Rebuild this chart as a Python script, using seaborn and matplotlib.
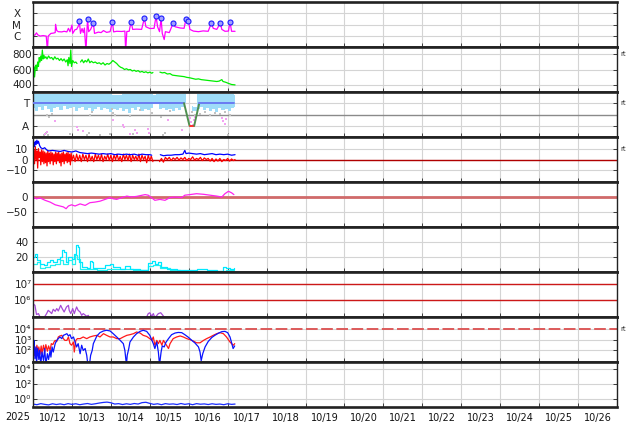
import numpy as np
import pandas as pd
import matplotlib
matplotlib.use("Agg")
import matplotlib.pyplot as plt
import matplotlib.transforms as mtransforms
from matplotlib.ticker import FixedLocator, FixedFormatter, NullLocator
import seaborn as sns

# time axis = days since 2025-10-11 00:00 UT
day_labels = ["10/12", "10/13", "10/14", "10/15", "10/16", "10/17", "10/18", "10/19",
              "10/20", "10/21", "10/22", "10/23", "10/24", "10/25", "10/26"]

# --- panel 1: X-ray flux, in units of 1e-6 W/m2 (C1 = 1) ---
xray_day = [0.00, 0.05, 0.09, 0.12, 0.18, 0.26, 0.34, 0.37, 0.39, 0.46,
            0.52, 0.57, 0.58, 0.61, 0.65, 0.74, 0.80, 0.87, 0.91, 0.95,
            1.00, 1.02, 1.08, 1.12, 1.17, 1.19, 1.22, 1.26, 1.29, 1.32,
            1.36, 1.40, 1.43, 1.48, 1.55, 1.58, 1.68, 1.75, 1.81, 1.89,
            1.98, 2.04, 2.07, 2.15, 2.28, 2.36, 2.38, 2.41, 2.47, 2.52,
            2.56, 2.66, 2.79, 2.86, 2.90, 3.00, 3.11, 3.16, 3.20, 3.25,
            3.29, 3.32, 3.37, 3.40, 3.50, 3.60, 3.65, 3.78, 3.88, 3.93,
            3.96, 3.99, 4.03, 4.12, 4.25, 4.37, 4.50, 4.58, 4.63, 4.72,
            4.81, 4.85, 4.93, 5.02, 5.06, 5.10, 5.19]
xray_c = [1.2, 1.2, 1.9, 1.3, 1.0, 1.1, 1.0, 0.05, 1.0, 1.7,
          1.8, 2.0, 10.5, 3.0, 2.4, 2.3, 2.6, 2.3, 4.7, 2.4,
          9.0, 1.7, 3.6, 3.8, 8.0, 20, 1.7, 4.5, 2.0, 5.0,
          0.05, 28, 2.4, 3.8, 13, 1.7, 2.2, 2.0, 3.0, 2.1,
          2.4, 18, 2.3, 2.6, 2.5, 2.7, 0.05, 2.5, 2.6, 18,
          3.8, 4.0, 3.8, 35, 6.4, 4.5, 4.7, 55, 6.4, 2.4,
          35, 1.7, 0.5, 2.4, 2.0, 13, 6.4, 5.0, 4.7, 30,
          22, 25, 3.8, 2.7, 2.4, 2.8, 2.6, 13, 4.7, 3.8,
          13, 3.8, 2.6, 2.7, 17, 2.6, 2.6]
flare_day = [1.19, 1.40, 1.55, 2.04, 2.52, 2.86, 3.16, 3.29, 3.60, 3.93, 3.99, 4.58, 4.81, 5.06]
flare_c = [20, 28, 13, 18, 18, 35, 55, 35, 13, 30, 22, 13, 13, 17]

# --- panel 2: solar wind speed (km/s), nan = data gap ---
speed_day = [0.00, 0.02, 0.04, 0.06, 0.08, 0.10, 0.12, 0.14, 0.16, 0.18,
             0.20, 0.22, 0.24, 0.26, 0.28, 0.30, 0.33, 0.36, 0.40, 0.44,
             0.48, 0.52, 0.56, 0.60, 0.64, 0.68, 0.72, 0.76, 0.80, 0.84,
             0.88, 0.90, 0.92, 0.95, 0.97, 0.99, 1.02, 1.06, 1.10, 1.13,
             1.17,
             1.22, 1.26, 1.30, 1.34, 1.38, 1.42, 1.46, 1.50, 1.55, 1.60,
             1.65, 1.70, 1.75, 1.80, 1.85, 1.90, 1.95, 2.00, 2.05, 2.10,
             2.15, 2.20, 2.25, 2.30, 2.35, 2.40, 2.45, 2.50, 2.55, 2.60,
             2.65, 2.70, 2.75, 2.80, 2.85, 2.90, 2.95, 3.00, 3.05, 3.08,
             3.17,
             3.26, 3.32, 3.38, 3.45, 3.52, 3.58, 3.65, 3.72, 3.80, 3.88,
             3.95, 4.02, 4.10, 4.18, 4.25, 4.32, 4.40, 4.48, 4.56, 4.64,
             4.72, 4.78, 4.85, 4.88, 4.95, 5.02, 5.10, 5.19]
speed = [560, 640, 500, 620, 660, 590, 700, 640, 760, 700,
         780, 720, 860, 740, 790, 750, 770, 740, 780, 750,
         760, 730, 770, 740, 750, 720, 745, 715, 740, 700,
         730, 650, 760, 680, 860, 640, 720, 690, 700, 680,
         np.nan,
         700, 730, 690, 720, 700, 740, 690, 710, 690, 700,
         680, 690, 670, 690, 660, 680, 670, 690, 720, 700,
         680, 650, 630, 620, 600, 610, 595, 600, 580, 590,
         575, 585, 565, 575, 560, 570, 555, 565, 550, 560,
         np.nan,
         565, 555, 560, 540, 545, 525, 520, 515, 510, 505,
         495, 490, 480, 470, 475, 465, 460, 455, 450, 445,
         440, 445, 465, 440, 430, 415, 400, 395]

# --- panel 3: sector polarity (A = 1, T = 3) ---
pol_day = [0.00, 0.08, 0.16, 0.24, 0.32, 0.40, 0.48, 0.56, 0.64, 0.72,
           0.80, 0.88, 0.96, 1.04, 1.12, 1.20, 1.28, 1.36, 1.44, 1.52,
           1.60, 1.68, 1.76, 1.84, 1.92, 2.00, 2.08, 2.16, 2.24, 2.32,
           2.40, 2.48, 2.56, 2.64, 2.72, 2.80, 2.88, 2.96, 3.04, 3.12,
           3.20, 3.28, 3.36, 3.44, 3.52, 3.60, 3.68, 3.76, 3.84, 3.92,
           4.00, 4.08, 4.16, 4.24, 4.32, 4.40, 4.48, 4.56, 4.64, 4.72,
           4.80, 4.88, 4.96, 5.04, 5.12, 5.19]
pol_hi = [3.85, 3.85, 3.85, 3.85, 3.85, 3.85, 3.85, 3.85, 3.85, 3.85,
          3.85, 3.85, 3.85, 3.85, 3.85, 3.85, 3.85, 3.85, 3.85, 3.85,
          3.85, 3.85, 3.85, 3.85, 3.85, 3.85, 3.75, 3.75, 3.70, 3.85,
          3.85, 3.85, 3.85, 3.85, 3.85, 3.85, 3.85, 3.85, 3.85, 3.70,
          3.85, 3.85, 3.85, 3.85, 3.85, 3.85, 3.85, 3.85, 3.85, 3.80,
          np.nan, 2.80, 2.70, 3.85, 3.85, 3.85, 3.85, 3.85, 3.85, 3.85,
          3.85, 3.85, 3.85, 3.85, 3.85, 3.75]
pol_lo = [2.6, 2.3, 2.7, 2.4, 2.8, 2.5, 2.2, 2.6, 2.7, 2.4,
          2.8, 2.5, 2.6, 2.7, 2.3, 2.6, 2.7, 2.4, 2.6, 2.3,
          2.5, 2.7, 2.4, 2.6, 2.5, 2.2, 2.5, 2.4, 2.6, 2.3,
          2.5, 2.1, 2.6, 2.4, 2.7, 2.3, 2.5, 2.4, 2.6, 2.9,
          3.0, 2.5, 2.6, 2.4, 2.5, 2.3, 2.6, 2.4, 2.7, 3.0,
          np.nan, 2.2, 2.3, 2.5, 2.7, 2.4, 2.6, 2.3, 2.5, 2.2,
          2.6, 2.4, 2.5, 2.3, 2.6, 2.7]
gray_day = [0.35, 0.42, 0.48, 1.46, 1.51, 2.02, 2.06, 2.11, 2.49, 2.75,
            3.05, 3.30, 3.52, 4.08, 4.16, 4.29, 4.42, 4.55, 4.67, 4.80,
            4.93, 5.06, 0.27, 0.33, 0.39, 0.95, 1.38, 1.45, 1.72, 1.98,
            2.58, 3.33, 3.39, 5.02]
gray_val = [1.93, 1.78, 2.07, 1.99, 2.22, 2.52, 2.16, 1.93, 1.87, 2.37,
            2.16, 1.78, 2.28, 2.22, 1.93, 2.07, 2.22, 1.93, 2.16, 2.07,
            2.22, 1.99, 0.20, 0.38, 0.20, 0.30, 0.20, 0.38, 0.20, 0.27,
            0.30, 0.20, 0.38, 0.20]
pink_day = [0.57, 0.31, 0.35, 1.12, 1.15, 1.29, 2.06, 2.30, 2.34, 2.49,
            2.62, 2.68, 2.96, 2.99, 3.48, 3.82, 4.02, 4.05, 4.10, 4.13,
            4.17, 4.85, 4.89, 4.93, 4.97]
pink_val = [1.39, 0.30, 0.44, 0.89, 0.59, 0.50, 1.48, 1.10, 0.86, 0.30,
            0.59, 0.38, 0.74, 0.38, 1.48, 0.59, 1.69, 1.33, 1.04, 1.48,
            1.78, 1.69, 1.39, 1.19, 1.57]
status_day = [0.00, 3.88, 4.02, 4.14, 4.27, 5.15]
status_val = [3, 3, 1, 1, 3, 3]

# --- panel 4: IMF Bt (blue) and Bz (red), nT ---
bt_day = [0.00, 0.02, 0.04, 0.06, 0.08, 0.10, 0.12, 0.14, 0.17, 0.20,
          0.25, 0.30, 0.35, 0.40, 0.50, 0.60, 0.70, 0.80, 0.90, 1.00,
          1.10, 1.20, 1.30, 1.40, 1.50, 1.60, 1.70, 1.80, 1.90, 2.00,
          2.10, 2.20, 2.30, 2.40, 2.50, 2.60, 2.70, 2.80, 2.90, 3.00,
          3.05, 3.15, 3.27, 3.35, 3.45, 3.55, 3.65, 3.75, 3.85, 3.90,
          3.93, 4.00, 4.10, 4.20, 4.30, 4.40, 4.50, 4.60, 4.70, 4.80,
          4.90, 5.00, 5.10, 5.19]
bt = [14, 16, 12, 17, 14, 18, 15, 17, 13, 11,
      10, 11, 9, 8, 8.5, 8, 7.5, 8.5, 7.5, 7,
      8, 6.5, 6, 5.5, 6, 5.5, 5, 5.5, 5, 5.5,
      4.5, 5, 4.5, 5, 4.5, 5, 4, 5, 4.5, 4.5,
      4, np.nan, 4.5, 3.5, 4, 4, 4.5, 4.5, 5, 8.5,
      5.5, 6, 5.5, 5, 5.5, 4.5, 5, 5.5, 4.5, 5,
      4.5, 5, 4, 4.5]
bz_early = [-10, 9, -4, 12, 0, 8, -8, 10, 2, 7,
            -5, 9, -2, 8, -4, 7, -3, 6, -6, 8,
            -2, 6, -4, 7, -1, 6, -5, 5, -2, 7,
            -4, 6, -1, 7, -3, 5, -6, 6, -2, 7,
            -4, 5, -1, 6, -3, 7, -2, 5, -5, 6,
            -1]
bz_mid = [4, -2, 5, -1, 4, -2, 5, 0, 4, -2,
          5, -1, 3, -2, 5, 0, 4, -1, 5, -2,
          3, 0, 5, -1, 4, -2, 4, 0, 5, -1,
          3, -2, 5, 0, 4, -1, 5, -2, 4, 0,
          3, -1, 5, -2, 4, 0, 3, -3, 4, -1,
          3, -2]
bz_late = [-2, 1, -2.5, 2, 0, 2, -1, 1.5, 0, 2,
           -0.5, 1.5, 0, 2, -1, 1, 0, 2.5, -0.5, 1,
           0, 2, -1, 1.5, 0, 1, -1.5, 1, -2, 0.5,
           -1.5, 1, -2, 0, -1, 1, -1.5, 0.5, -1, 0]
bz_day = list(np.round(np.linspace(0.0, 1.0, 51), 3)) + \
         list(np.round(np.linspace(1.04, 3.08, 52), 3)) + [3.17] + \
         list(np.round(np.linspace(3.25, 5.15, 39), 3)) + [5.19]
bz = bz_early + bz_mid + [np.nan] + bz_late

# --- panel 5: Dst index (nT) ---
dst_day = [0.00, 0.09, 0.18, 0.31, 0.44, 0.57, 0.69, 0.78, 0.85, 0.91,
           0.99, 1.08, 1.21, 1.34, 1.46, 1.59, 1.72, 1.85, 1.98, 2.06,
           2.15, 2.28, 2.41, 2.53, 2.66, 2.88, 2.96, 3.05, 3.13, 3.26,
           3.39, 3.52, 3.65, 3.82, 3.90, 4.03, 4.20, 4.38, 4.55, 4.72,
           4.85, 4.93, 5.02, 5.10, 5.16]
dst = [0, -6, -3, -11, -17, -26, -30, -33, -39, -30,
       -26, -30, -23, -28, -19, -17, -14, -8, -2, -6,
       -8, -2, 3, 0, 2, 8, 6, -3, -11, -8,
       -11, -2, 0, -2, 6, 8, 11, 9, 6, 3,
       0, 11, 19, 14, 8]

# --- panel 6: two cyan traces ---
cyan_a_day = [0.00, 0.05, 0.11, 0.18, 0.27, 0.35, 0.44, 0.52, 0.61, 0.69,
              0.75, 0.80, 0.85, 0.91, 0.99, 1.05, 1.10, 1.15, 1.19, 1.25,
              1.38, 1.46, 1.51, 1.55, 1.72, 1.85, 1.98, 2.06, 2.23, 2.36,
              2.49, 2.75, 2.96, 3.05, 3.13, 3.22, 3.30, 3.43, 3.69, 3.95,
              4.20, 4.46, 4.72, 4.89, 4.97, 5.06, 5.16]
cyan_a = [20, 24.5, 15.6, 11, 9, 13.4, 15.6, 13.4, 17, 20,
          29, 26.8, 13.4, 20, 17.9, 24.5, 35.6, 33.4, 13.4, 6.7,
          5.4, 14.3, 13.4, 5.4, 5.4, 9, 11.2, 6.7, 3.6, 8,
          4.5, 2.3, 12, 14.3, 11.2, 13.4, 6.7, 3.6, 2.3, 2.3,
          3.6, 2.3, 1.9, 6.7, 5.4, 3.6, 5.4]
cyan_b_day = [0.00, 0.09, 0.18, 0.31, 0.44, 0.57, 0.69, 0.78, 0.91, 0.99,
              1.08, 1.12, 1.21, 1.42, 1.64, 1.89, 2.06, 2.32, 2.58, 2.83,
              2.96, 3.09, 3.26, 3.52, 3.78, 4.03, 4.29, 4.55, 4.80, 4.97, 5.16]
cyan_b = [11.2, 13.4, 5.4, 6.7, 9.9, 11.2, 15.6, 11.2, 15.6, 11.2,
          22.3, 17.9, 3.6, 3.6, 2.3, 4.5, 3.6, 3.6, 2.3, 2.3,
          8, 9.9, 5.4, 2.3, 1, 1.4, 1, 1, 1.9, 2.3, 2.3]

# --- panel 7: purple trace, units of 1e5 ---
purple_day = [0.00, 0.05, 0.09, 0.14, 0.18, 0.27, 0.35, 0.39, 0.44, 0.48,
              0.52, 0.57, 0.61, 0.65, 0.71, 0.75, 0.80, 0.86, 0.91, 0.93,
              0.97, 1.02, 1.06, 1.12, 1.16, 1.21, 1.25, 1.29, 1.38, 1.42,
              1.46, 2.90, 2.96, 3.00, 3.05, 3.09, 3.13, 3.22, 3.28, 3.33, 3.40]
purple = [6.3, 5.0, 1.4, 1.6, 1.0, 0.8, 1.6, 2.5, 2.0, 1.6,
          2.9, 2.2, 3.2, 2.3, 5.0, 3.2, 2.0, 4.0, 5.0, 2.5,
          1.6, 3.2, 1.6, 4.0, 2.5, 2.0, 1.26, 1.6, 1.1, 1.26,
          0.8, 0.8, 1.6, 1.8, 1.1, 1.6, 0.9, 1.6, 1.8, 1.3, 0.8]

# --- panel 8: blue and red fluxes ---
p8_blue_day = [0.00, 0.02, 0.03, 0.05, 0.08, 0.09, 0.12, 0.15, 0.17, 0.20,
               0.23, 0.27, 0.30, 0.33, 0.37, 0.40, 0.44, 0.46, 0.49, 0.52,
               0.57, 0.61, 0.65, 0.69, 0.74, 0.78, 0.82, 0.87, 0.91, 0.95,
               0.99, 1.04, 1.08, 1.12, 1.16, 1.21, 1.25, 1.29, 1.34, 1.38,
               1.41, 1.45, 1.48, 1.52, 1.55, 1.64, 1.72, 1.81, 1.89, 1.98,
               2.06, 2.15, 2.24, 2.32, 2.36, 2.40, 2.42, 2.46, 2.49, 2.58,
               2.66, 2.75, 2.83, 2.92, 3.00, 3.09, 3.13, 3.18, 3.22, 3.25,
               3.29, 3.32, 3.37, 3.41, 3.48, 3.56, 3.65, 3.73, 3.82, 3.90,
               3.99, 4.08, 4.16, 4.25, 4.29, 4.32, 4.36, 4.42, 4.50, 4.59,
               4.67, 4.76, 4.85, 4.93, 5.00, 5.06, 5.10, 5.14, 5.18]
p8_blue = [1700, 72, 830, 18, 210, 5, 150, 15, 100, 5,
           72, 12, 150, 5, 51, 15, 100, 25, 210, 72,
           420, 830, 1200, 1700, 1200, 2400, 2750, 3400, 2100, 2750,
           1200, 1700, 590, 210, 420, 51, 300, 100, 150, 36,
           5, 5, 36, 100, 420, 2100, 4200, 6000, 6900, 6000,
           3400, 1700, 830, 420, 100, 5, 36, 150, 590, 1700,
           3400, 5500, 6900, 5500, 2400, 420, 150, 590, 72, 5,
           72, 260, 210, 520, 1200, 2750, 3900, 4400, 4200, 2750,
           1600, 830, 480, 210, 72, 12, 51, 210, 660, 1500,
           2400, 3700, 5200, 5500, 4200, 1700, 520, 150, 260]
p8_red_day = [0.00, 0.02, 0.03, 0.05, 0.08, 0.10, 0.13, 0.15, 0.18, 0.21,
              0.23, 0.27, 0.30, 0.33, 0.37, 0.40, 0.44, 0.47, 0.51, 0.54,
              0.57, 0.61, 0.65, 0.69, 0.74, 0.78, 0.82, 0.87, 0.91, 0.95,
              0.99, 1.04, 1.06, 1.10, 1.14, 1.21, 1.29, 1.38, 1.46, 1.55,
              1.64, 1.72, 1.81, 1.89, 1.98, 2.06, 2.15, 2.24, 2.32, 2.41,
              2.49, 2.58, 2.66, 2.75, 2.83, 2.92, 3.00, 3.05, 3.09, 3.13,
              3.18, 3.22, 3.26, 3.31, 3.35, 3.43, 3.48, 3.52, 3.60, 3.69,
              3.78, 3.86, 3.95, 4.03, 4.12, 4.20, 4.29, 4.38, 4.46, 4.55,
              4.63, 4.72, 4.80, 4.89, 4.97, 5.06, 5.10, 5.15, 5.18]
p8_red = [18, 150, 36, 210, 51, 300, 72, 210, 45, 260,
          51, 300, 72, 340, 85, 260, 100, 420, 340, 590,
          830, 660, 1700, 2100, 2400, 1200, 830, 830, 1700, 420,
          300, 590, 72, 830, 1200, 1200, 1700, 1200, 1700, 2100,
          2400, 1700, 3400, 2400, 1700, 1700, 1200, 1200, 1700, 2400,
          2750, 3400, 4800, 3900, 2400, 1900, 1200, 830, 1700, 300,
          830, 420, 830, 300, 830, 300, 150, 420, 1200, 1700,
          2100, 1700, 1200, 970, 720, 500, 500, 830, 1200, 1700,
          2400, 3400, 4200, 3400, 1700, 590, 420, 300, 420]

# --- panel 9: blue trace near the floor ---
p9_day = [0.0, 0.1, 0.2, 0.3, 0.4, 0.5, 0.6, 0.7, 0.8, 0.9,
          1.0, 1.1, 1.2, 1.3, 1.4, 1.5, 1.6, 1.7, 1.8, 1.9,
          2.0, 2.1, 2.2, 2.3, 2.4, 2.5, 2.6, 2.7, 2.8, 2.9,
          3.0, 3.1, 3.2, 3.3, 3.4, 3.5, 3.6, 3.7, 3.8, 3.9,
          4.0, 4.1, 4.2, 4.3, 4.4, 4.5, 4.6, 4.7, 4.8, 4.9,
          5.0, 5.1, 5.19]
p9_blue = [0.22, 0.18, 0.25, 0.2, 0.17, 0.24, 0.19, 0.23, 0.18, 0.25,
           0.2, 0.24, 0.18, 0.22, 0.26, 0.2, 0.24, 0.3, 0.36, 0.4,
           0.33, 0.22, 0.25, 0.19, 0.24, 0.2, 0.26, 0.22, 0.34, 0.38,
           0.27, 0.2, 0.24, 0.18, 0.25, 0.21, 0.23, 0.19, 0.26, 0.2,
           0.24, 0.18, 0.25, 0.21, 0.23, 0.19, 0.24, 0.2, 0.22, 0.18,
           0.24, 0.2, 0.22]


def draw_line(ax, days, vals, color, lw=0.9, **kw):
    df = pd.DataFrame({"t": days, "v": vals})
    df["seg"] = df["v"].isna().cumsum()
    df = df.dropna()
    sns.lineplot(data=df, x="t", y="v", units="seg", estimator=None, sort=False,
                 color=color, lw=lw, ax=ax, legend=False, **kw)


def rt_label(ax, yval):
    tr = mtransforms.blended_transform_factory(ax.transAxes, ax.transData)
    ax.text(1.006, yval, "rt", transform=tr, fontsize=5, va="center", color="#333333")


sns.set_theme(style="white")
plt.rcParams["font.family"] = ["DejaVu Sans"]

fig, axes = plt.subplots(9, 1, figsize=(6.34, 4.24), dpi=100, sharex=True)
fig.subplots_adjust(left=33 / 634, right=617 / 634, top=1 - 2 / 424,
                    bottom=1 - 407 / 424, hspace=0)

grid_c = "#d4d4d4"

# panel 1: X-ray
ax = axes[0]
draw_line(ax, xray_day, np.array(xray_c) * 1e-6, "#ff00ff", lw=0.9)
sns.scatterplot(x=flare_day, y=np.array(flare_c) * 1e-6, ax=ax, marker="o", s=13,
                color="#a0a0ff", edgecolor="#1a1aff", linewidth=0.8, zorder=5, legend=False)
ax.set_yscale("log")
ax.set_ylim(10 ** -6.947, 10 ** -3.047)
ax.yaxis.set_major_locator(FixedLocator([1e-6, 1e-5, 1e-4]))
ax.yaxis.set_major_formatter(FixedFormatter(["C", "M", "X"]))
ax.tick_params(axis="y", pad=9)

# panel 2: speed
ax = axes[1]
draw_line(ax, speed_day, speed, "#00ee00", lw=0.9)
ax.set_ylim(300, 900)
ax.yaxis.set_major_locator(FixedLocator([400, 600, 800]))
ax.tick_params(axis="y", pad=1)
rt_label(ax, 800)

# panel 3: polarity
ax = axes[2]
ax.fill_between(pol_day, pol_lo, pol_hi, step="mid", color="#9edcf8", lw=0, zorder=2)
sns.scatterplot(x=gray_day, y=gray_val, ax=ax, marker="s", s=4, color="#c2c2c2",
                linewidth=0, zorder=2, legend=False)
sns.scatterplot(x=pink_day, y=pink_val, ax=ax, marker="s", s=4, color="#f2a2f2",
                linewidth=0, zorder=2, legend=False)
ax.axhline(2, color="#8a8a8a", lw=1, zorder=1.5)
for i in range(len(status_day) - 1):
    a, b = status_val[i], status_val[i + 1]
    c = "#6a7cf2" if a == b == 3 else ("#ff3030" if a == b == 1 else "#4f8f4f")
    draw_line(ax, status_day[i:i + 2], status_val[i:i + 2], c, lw=1.4, zorder=4)
ax.set_ylim(0, 4)
ax.yaxis.set_major_locator(FixedLocator([1, 3]))
ax.yaxis.set_major_formatter(FixedFormatter(["A", "T"]))
ax.tick_params(axis="y", pad=3)
rt_label(ax, 3)

# panel 4: Bt / Bz
ax = axes[3]
ax.axhline(0, color="#b00000", lw=1, zorder=1.5)
draw_line(ax, bz_day, bz, "#ff0000", lw=0.9)
draw_line(ax, bt_day, bt, "#0000ff", lw=0.9)
ax.set_ylim(-21, 21)
ax.yaxis.set_major_locator(FixedLocator([-10, 0, 10]))
ax.tick_params(axis="y", pad=3.5)
rt_label(ax, 10)

# panel 5: Dst
ax = axes[4]
ax.axhline(0, color="#d06a6a", lw=2, zorder=1.5)
draw_line(ax, dst_day, dst, "#ff22ee", lw=0.9)
ax.set_ylim(-100, 50)
ax.yaxis.set_major_locator(FixedLocator([-50, 0]))
ax.tick_params(axis="y", pad=3.5)

# panel 6: cyan
ax = axes[5]
draw_line(ax, cyan_b_day, cyan_b, "#22f0f0", lw=0.9, drawstyle="steps-post")
draw_line(ax, cyan_a_day, cyan_a, "#00e8ff", lw=0.9, drawstyle="steps-post")
ax.set_ylim(0, 60)
ax.yaxis.set_major_locator(FixedLocator([20, 40]))
ax.tick_params(axis="y", pad=3.5)

# panel 7: purple
ax = axes[6]
ax.axhline(1e7, color="#cc1818", lw=1, zorder=1.5)
ax.axhline(1e6, color="#cc1818", lw=1, zorder=1.5)
draw_line(ax, purple_day, np.array(purple) * 1e5, "#a64bd6", lw=0.9)
ax.set_yscale("log")
ax.set_ylim(1e5, 10 ** 7.7)
ax.yaxis.set_major_locator(FixedLocator([1e6, 1e7]))
ax.yaxis.set_major_formatter(FixedFormatter(["10\u2076", "10\u2077"]))
ax.tick_params(axis="y", pad=1)

# panel 8: blue / red
ax = axes[7]
ax.axhline(1e4, color="#dd5a5a", lw=1.4, ls=(0, (6, 1.8)), zorder=1.5)
draw_line(ax, p8_red_day, p8_red, "#ff1a1a", lw=0.9)
draw_line(ax, p8_blue_day, p8_blue, "#0a14ff", lw=0.9)
ax.set_yscale("log")
ax.set_ylim(10 ** 0.95, 10 ** 5.05)
ax.yaxis.set_major_locator(FixedLocator([1e2, 1e3, 1e4]))
ax.yaxis.set_major_formatter(FixedFormatter(["10\u00b2", "10\u00b3", "10\u2074"]))
ax.tick_params(axis="y", pad=1)
rt_label(ax, 1e4)

# panel 9: blue near floor
ax = axes[8]
draw_line(ax, p9_day, p9_blue, "#1a2cff", lw=0.9)
ax.set_yscale("log")
ax.set_ylim(10 ** -1.05, 10 ** 4.95)
ax.yaxis.set_major_locator(FixedLocator([1e0, 1e2, 1e4]))
ax.yaxis.set_major_formatter(FixedFormatter(["10\u2070", "10\u00b2", "10\u2074"]))
ax.tick_params(axis="y", pad=1)

# common styling
for ax in axes:
    ax.set_xlim(0, 15)
    ax.set_xlabel("")
    ax.set_ylabel("")
    ax.yaxis.set_minor_locator(NullLocator())
    ax.xaxis.set_major_locator(FixedLocator(list(range(16))))
    ax.grid(True, axis="x", which="major", color=grid_c, lw=0.8)
    ax.grid(True, axis="y", which="major", color=grid_c, lw=0.8)
    ax.set_axisbelow(True)
    for s in ["top", "bottom"]:
        ax.spines[s].set_linewidth(1.9)
        ax.spines[s].set_color("#222222")
    for s in ["left", "right"]:
        ax.spines[s].set_linewidth(1.0)
        ax.spines[s].set_color("#222222")
    ax.tick_params(axis="y", which="major", direction="in", length=3, width=0.6,
                   left=True, right=True, labelsize=7.5, colors="#222222")
    ax.tick_params(axis="x", which="major", direction="in", length=3, width=0.6,
                   bottom=True, labelbottom=False)

bottom = axes[-1]
bottom.xaxis.set_minor_locator(FixedLocator([i + 0.5 for i in range(15)]))
bottom.xaxis.set_minor_formatter(FixedFormatter(day_labels))
bottom.tick_params(axis="x", which="minor", length=0, labelsize=7, pad=4,
                   labelbottom=True, colors="#111111")
fig.text(18 / 634, 1 - 417 / 424, "2025", ha="center", va="center", fontsize=7,
         color="#111111")

fig.savefig("out.png", dpi=100)
